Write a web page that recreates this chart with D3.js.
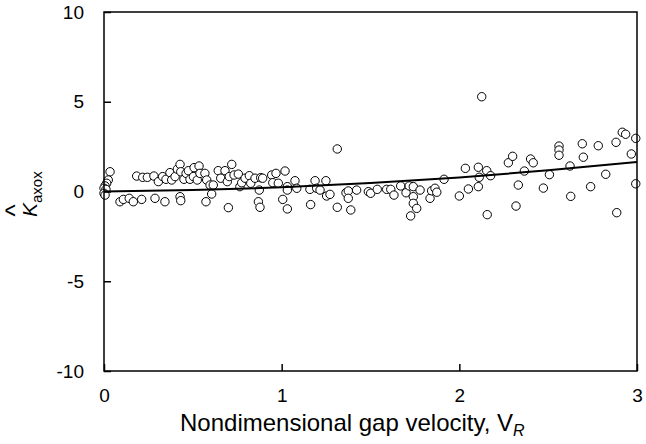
<!DOCTYPE html>
<html>
<head>
<meta charset="utf-8">
<script src="https://cdn.jsdelivr.net/npm/d3@7"></script>
<style>
  html, body { margin: 0; padding: 0; background: #fff; }
  svg { display: block; }
  text { font-family: "Liberation Sans", Arial, sans-serif; fill: #000; }
</style>
</head>
<body>
<svg id="chart" width="646" height="444"></svg>
<script>
// Nondimensional gap velocity V_R (x) and K-hat axox (y)
const vr = [
  0.034,0.024,0.015,0.006,0.0,0.011,0.0,0.006,
  0.184,0.218,0.244,0.281,0.306,0.33,0.349,0.371,0.381,0.40,0.413,0.428,0.432,0.45,0.462,0.475,0.484,0.503,0.507,0.525,0.535,0.54,0.568,0.578,0.597,0.615,0.643,0.657,0.681,0.694,0.705,0.719,0.732,0.756,0.765,0.775,0.794,0.818,0.826,0.85,0.882,0.893,0.944,0.95,0.968,0.981,1.019,1.032,1.032,
  0.09,0.109,0.142,0.165,0.212,0.287,0.343,0.428,0.432,0.574,0.606,0.70,0.874,0.869,0.878,1.006,1.032,
  1.075,1.085,1.159,1.163,1.188,1.197,1.216,1.249,1.253,1.272,1.313,1.313,1.362,1.375,1.375,1.389,1.422,1.488,1.501,1.538,1.591,1.614,1.632,1.67,1.70,1.718,1.726,1.741,1.741,1.741,1.76,1.779,1.835,1.844,1.863,1.873,1.914,2.00,2.034,2.051,2.107,2.107,
  2.126,2.154,2.176,2.112,2.157,2.276,2.30,2.401,2.416,2.366,2.332,2.319,2.473,2.507,2.561,2.561,2.561,2.623,2.627,2.692,2.698,2.739,2.782,2.824,2.882,2.886,2.917,2.936,2.968,2.993,2.993
];
const kaxox = [
  1.10,0.64,0.46,0.31,0.18,0.12,-0.10,-0.20,
  0.86,0.79,0.79,0.86,0.55,0.83,0.68,1.05,0.64,0.83,1.24,1.51,1.10,0.68,1.01,1.16,0.68,0.83,1.33,0.64,1.42,1.01,1.01,0.64,0.36,0.36,1.16,0.74,1.16,0.55,0.83,1.51,0.92,0.97,0.27,0.49,0.74,0.88,0.46,0.74,0.77,0.74,0.92,0.49,1.01,0.46,1.14,0.27,0.08,
  -0.57,-0.44,-0.38,-0.57,-0.44,-0.38,-0.57,-0.29,-0.51,-0.57,-0.14,-0.90,0.08,-0.57,-0.88,-0.44,-0.97,
  0.60,0.18,0.12,-0.73,0.60,0.18,0.08,0.60,-0.25,-0.16,2.37,-0.88,-0.07,0.03,-0.38,-1.03,0.08,-0.01,-0.10,0.12,0.12,0.12,-0.20,0.31,-0.07,0.31,-1.36,0.27,-0.29,-0.66,-0.94,0.08,-0.38,0.04,0.18,-0.04,0.68,-0.25,1.29,0.14,1.35,0.27,
  5.28,1.16,0.88,0.79,-1.29,1.60,1.96,1.81,1.60,1.14,0.36,-0.81,0.19,0.94,2.53,2.31,2.02,1.42,-0.27,2.66,1.91,0.27,2.55,0.96,2.74,-1.18,3.30,3.19,2.09,2.96,0.43
];
// Trend curve
const fitV = [0, 0.5, 1, 1.5, 2, 2.5, 3];
const fitK = [0, 0.08, 0.23, 0.47, 0.78, 1.18, 1.65];
// Axis ticks
const xTicks = [0, 1, 2, 3];
const yTicks = [-10, -5, 0, 5, 10];

(function () {
const svg = d3.select("#chart");
const pLeft = 104, pRight = 637, pTop = 12, pBottom = 371;
const x = d3.scaleLinear().domain([0, 3]).range([pLeft, pRight]);
const y = d3.scaleLinear().domain([-10, 10]).range([pBottom, pTop]);

// Points
const pts = vr.map((v, i) => ({v, k: kaxox[i]}));
svg.append("g").selectAll("circle").data(pts).join("circle")
  .attr("cx", d => x(d.v)).attr("cy", d => y(d.k)).attr("r", 4.2)
  .attr("fill", "#fff").attr("stroke", "#000").attr("stroke-width", 1);

// Trend line
const fit = fitV.map((v, i) => ({v, k: fitK[i]}));
svg.append("path").datum(fit)
  .attr("fill", "none").attr("stroke", "#000").attr("stroke-width", 2)
  .attr("d", d3.line().x(d => x(d.v)).y(d => y(d.k)).curve(d3.curveMonotoneX));

// Axes
const yAxis = d3.axisLeft(y).tickValues(yTicks).tickSizeInner(-7).tickSizeOuter(0).tickPadding(20)
  .tickFormat(d => String(d));
const gy = svg.append("g").attr("transform", `translate(${pLeft},0)`).call(yAxis);
const xAxis = d3.axisBottom(x).tickValues(xTicks).tickSizeInner(-7).tickSizeOuter(0).tickPadding(18)
  .tickFormat(d => String(d));
const gx = svg.append("g").attr("transform", `translate(0,${pBottom})`).call(xAxis);
[gx, gy].forEach(g => {
  g.select(".domain").remove();
  g.selectAll(".tick line").attr("stroke", "#000").attr("stroke-width", 1.5);
  g.selectAll(".tick text").attr("font-size", 19).attr("font-family", "Liberation Sans, Arial, sans-serif").attr("fill", "#000");
});

// Frame
svg.append("rect").attr("x", pLeft).attr("y", pTop).attr("width", pRight - pLeft).attr("height", pBottom - pTop)
  .attr("fill", "none").attr("stroke", "#000").attr("stroke-width", 1.5);

// X title
const xt = svg.append("text").attr("x", 180).attr("y", 431)
  .attr("text-anchor", "start").attr("font-size", 24);
xt.append("tspan").text("Nondimensional gap velocity, V");
xt.append("tspan").text("R").attr("font-style", "italic").attr("font-size", 16).attr("dy", 5);

// Y title
const yl = svg.append("g").attr("transform", "translate(37,217) rotate(-90)");
yl.append("text").attr("x", 0.5).attr("y", -13).attr("font-size", 26).text("^");
const ylt = yl.append("text").attr("x", 0).attr("y", 0).attr("font-size", 21);
ylt.append("tspan").text("K").attr("font-style", "italic");
ylt.append("tspan").text("axox").attr("font-size", 15).attr("dy", 5);
})();
</script>
</body>
</html>
